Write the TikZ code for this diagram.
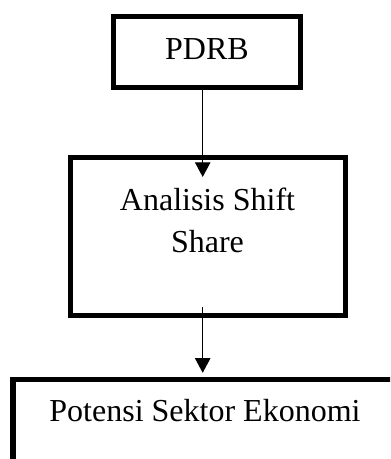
\documentclass[tikz,border=0pt]{standalone}
\usepackage{fontspec}
\setmainfont{Liberation Serif}
\usetikzlibrary{arrows.meta}

\begin{document}
\begin{tikzpicture}
			[
				x = 0.75pt, y = 0.75pt,
				box/.style = {rectangle, draw = black, line width = 4pt, fill = white, inner sep = 0pt},
				boxtext/.style = {anchor = base, align = center, inner sep = 0pt, font = \fontsize{24}{31.5}\selectfont},
				flow/.style = {line width = 1pt, -{Triangle[length = 11pt, width = 11.5pt]}},
			]
			\useasboundingbox (0,0) rectangle (390,459);
			\clip (0,0) rectangle (390,459);
			\node (pdrb) [box, minimum width = 140.25pt, minimum height = 53.25pt] at (207,407) {};
			\node (shiftshare) [box, minimum width = 206.25pt, minimum height = 118.5pt] at (208,222.5) {};
			\node (potensi) [box, minimum width = 288pt, minimum height = 90pt] at (205,19.5) {};
			\node (pdrbtext) [boxtext] at (207,399) {PDRB};
			\node (shiftsharetext) [boxtext] at (207.5,206) {Analisis Shift\\Share};
			\node (potensitext) [boxtext] at (205,37.3) {Potensi Sektor Ekonomi};
			\coordinate (tip) at (202.7,282);
			\coordinate (tail) at (202.7,152);
			\draw [flow] (pdrb.south -| tip) -- (tip);
			\draw [flow, shorten > = 3pt] (tail) -- (potensi.north -| tail);
		\end{tikzpicture}
\end{document}
